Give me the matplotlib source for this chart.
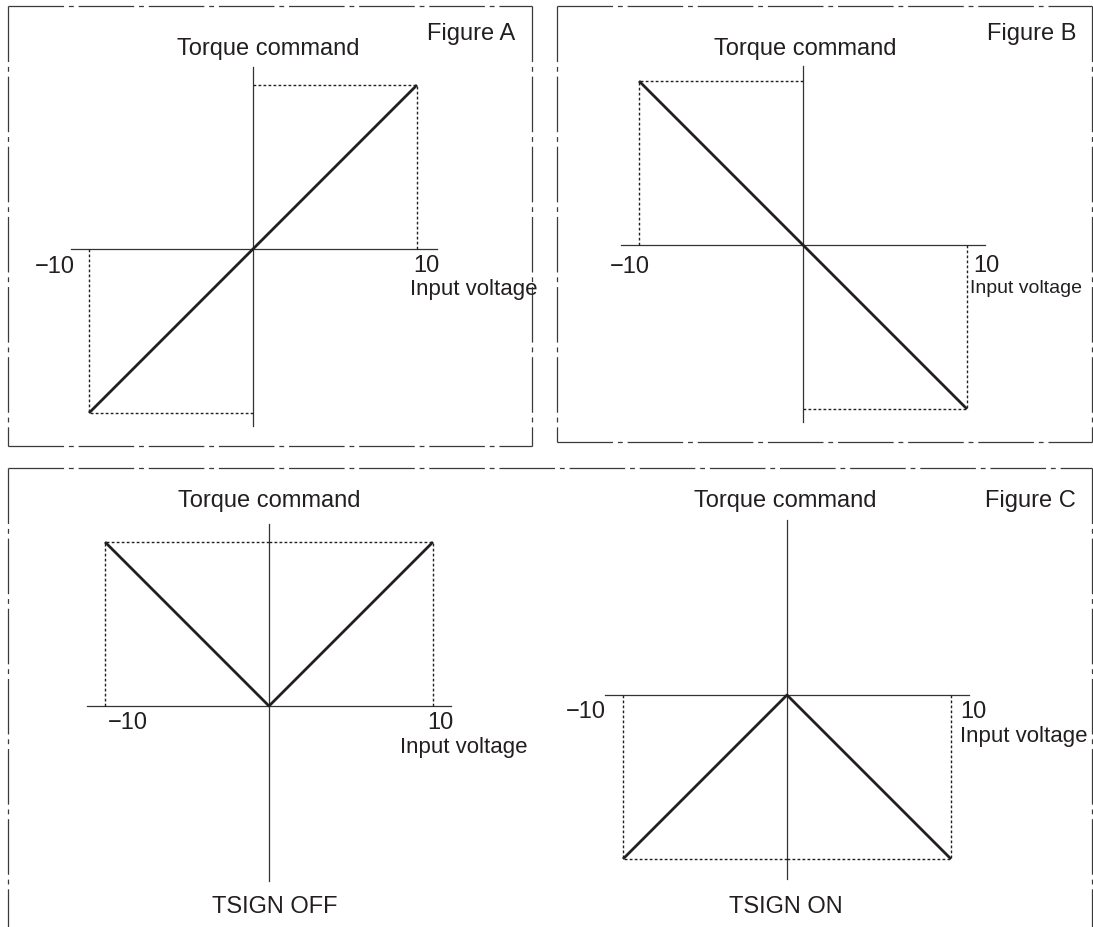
import matplotlib
matplotlib.use("Agg")
import matplotlib.pyplot as plt
from matplotlib.lines import Line2D

plt.rcParams["font.family"] = ["Liberation Sans", "DejaVu Sans"]
plt.rcParams["lines.scale_dashes"] = False

# Data: input voltage vs torque command for each figure
voltage = [-10, 0, 10]
torque_a = [-10, 0, 10]
torque_b = [10, 0, -10]
torque_c_off = [10, 0, 10]
torque_c_on = [-10, 0, -10]

W, H = 1093, 927
fig = plt.figure(figsize=(W / 100, H / 100), dpi=100)

INK = "#231f20"
AXIS = "#333333"


def px(x, y):
    return x / W, 1 - y / H


def label(x, y, s, ha="left", size=17):
    fx, fy = px(x, y)
    fig.text(fx, fy, s, ha=ha, va="baseline", fontsize=size, color=INK)


def frame(x0, y0, x1, y1, sides):
    pts = {"top": ([x0, x1], [y0, y0]), "bottom": ([x0, x1], [y1, y1]),
           "left": ([x0, x0], [y0, y1]), "right": ([x1, x1], [y0, y1])}
    for s in sides:
        xs, ys = pts[s]
        fx = [v / W for v in xs]
        fy = [1 - v / H for v in ys]
        ln = Line2D(fx, fy, transform=fig.transFigure, color="#3a3a3a", lw=0.9,
                    dashes=(40, 3.5, 3.5, 3.5))
        fig.add_artist(ln)


def panel(cx, cy, s, torque, hx, vy):
    # axes over the whole figure, data units mapped to pixels
    ax = fig.add_axes([0, 0, 1, 1])
    ax.set_xlim(-cx / s, (W - cx) / s)
    ax.set_ylim((cy - H) / s, cy / s)
    ax.axis("off")
    ax.patch.set_alpha(0)
    ax.plot(hx, [0, 0], color=AXIS, lw=0.9)
    ax.plot([0, 0], vy, color=AXIS, lw=0.9)
    for v, t in zip(voltage, torque):
        if v == 0:
            continue
        ax.plot([v, v], [0, t], color=INK, lw=1.0, dashes=(2, 1.6))
        ax.plot([0, v], [t, t], color=INK, lw=1.0, dashes=(2, 1.6))
    ax.plot(voltage, torque, color=INK, lw=2.0, solid_capstyle="butt")
    return ax


# frames
frame(8, 6, 532, 446, ["top", "bottom", "left", "right"])
frame(557, 6, 1092, 442, ["top", "bottom", "left", "right"])
frame(8, 468, 1092, 940, ["top", "left", "right"])

# Figure A
panel(253, 249, 16.4, torque_a, [-11.1, 11.2], [-10.8, 11.1])
label(268, 55, "Torque command", ha="center")
label(515, 40, "Figure A", ha="right")
label(75, 273, "\u221210", ha="right")
label(413, 272, "10")
label(410, 295, "Input voltage", size=16)

# Figure B
panel(803, 245, 16.4, torque_b, [-11.1, 11.1], [-10.8, 10.9])
label(805, 55, "Torque command", ha="center")
label(1076, 40, "Figure B", ha="right")
label(650, 273, "\u221210", ha="right")
label(973, 272, "10")
label(970, 293, "Input voltage", size=14)

# Figure C, TSIGN OFF
panel(269, 706, 16.4, torque_c_off, [-11.1, 11.1], [-10.7, 11.1])
label(269, 507, "Torque command", ha="center")
label(108, 729, "\u221210")
label(427, 729, "10")
label(400, 753, "Input voltage", size=16)
label(275, 913, "TSIGN OFF", ha="center")

# Figure C, TSIGN ON
panel(787, 695, 16.4, torque_c_on, [-11.1, 11.1], [-11.2, 10.7])
label(785, 507, "Torque command", ha="center")
label(1076, 507, "Figure C", ha="right")
label(606, 718, "\u221210", ha="right")
label(960, 718, "10")
label(960, 742, "Input voltage", size=16)
label(786, 913, "TSIGN ON", ha="center")

fig.savefig("out.png", dpi=100)
